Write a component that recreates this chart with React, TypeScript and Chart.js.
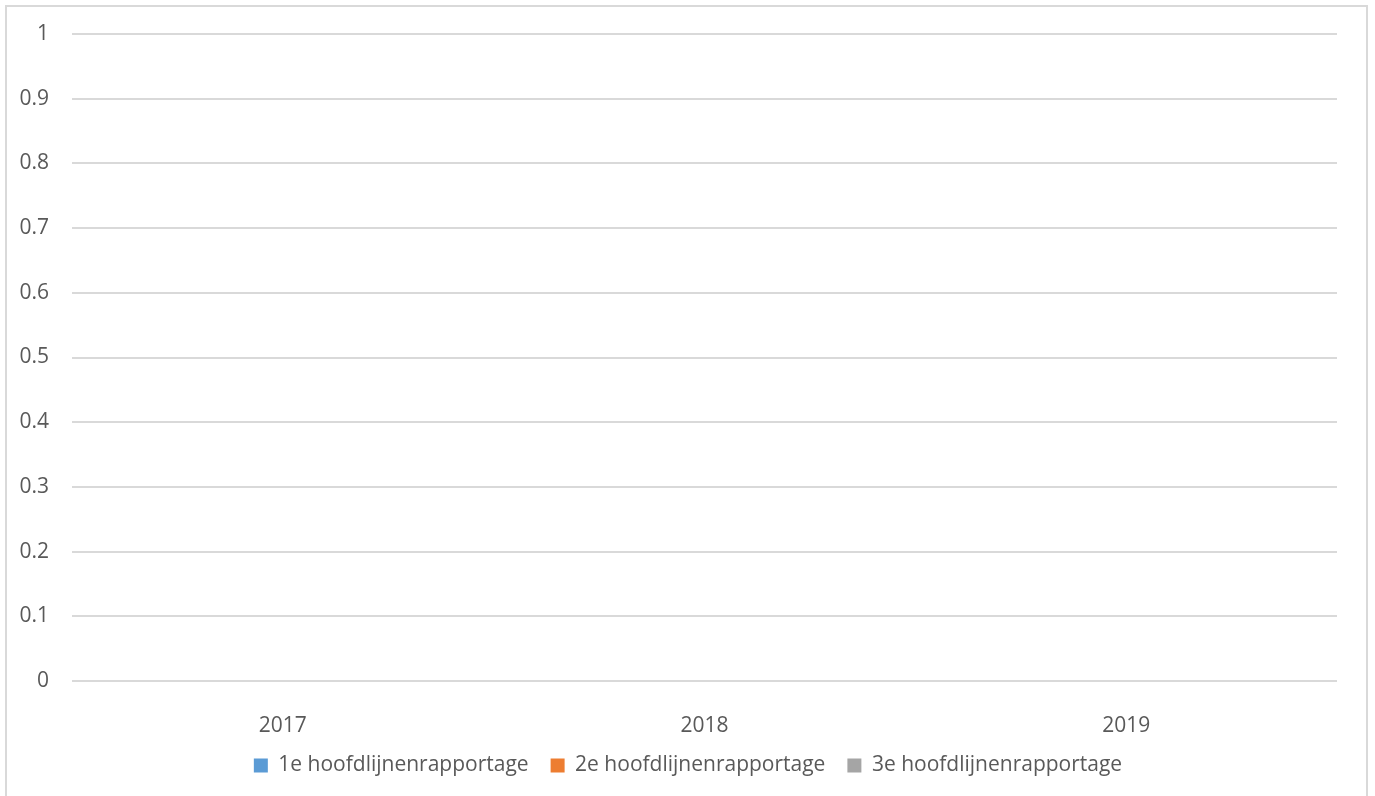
import React, { useEffect, useRef } from "react";
import { Chart, registerables } from "chart.js";

Chart.register(...registerables);

const categories = ["2017", "2018", "2019"];
const seriesNames = ["1e hoofdlijnenrapportage", "2e hoofdlijnenrapportage", "3e hoofdlijnenrapportage"];
const series1 = [0, 0, 0];
const series2 = [0, 0, 0];
const series3 = [0, 0, 0];
const seriesColors = ["#5b9bd5", "#ed7d31", "#a5a5a5"];
const yMin = 0;
const yMax = 1;
const yStep = 0.1;

const FONT = "'Open Sans', 'Noto Sans', sans-serif";
const TEXT = "#595959";
const GRID = "#d9d9d9";

const legendShift = {
  id: "legendShift",
  afterLayout(chart: any) {
    const lg = chart.legend;
    if (lg) {
      lg.left += 16;
      lg.right += 16;
    }
  },
};

export default function App() {
  const ref = useRef<HTMLCanvasElement | null>(null);

  useEffect(() => {
    const canvas = ref.current;
    if (!canvas) return;
    const values = [series1, series2, series3];
    const chart = new Chart(canvas, {
      type: "bar",
      data: {
        labels: categories,
        datasets: seriesNames.map((name, i) => ({
          label: name,
          data: values[i],
          backgroundColor: seriesColors[i],
          borderWidth: 0,
        })),
      },
      plugins: [legendShift],
      options: {
        animation: false,
        responsive: false,
        maintainAspectRatio: false,
        layout: { padding: { top: 27, right: 29, bottom: 10, left: 0 } },
        plugins: {
          tooltip: { enabled: false },
          legend: {
            position: "bottom",
            labels: {
              boxWidth: 14,
              boxHeight: 14,
              padding: 22,
              color: TEXT,
              font: { family: FONT, size: 21 },
            },
          },
        },
        scales: {
          x: {
            grid: { display: false },
            border: { display: false },
            ticks: { color: TEXT, font: { family: FONT, size: 21 }, padding: 24, maxRotation: 0 },
            afterFit: (scale: any) => {
              scale.height = 52;
            },
          },
          y: {
            min: yMin,
            max: yMax,
            border: { display: false },
            grid: { color: GRID, lineWidth: 2, drawTicks: false },
            ticks: {
              stepSize: yStep,
              color: TEXT,
              font: { family: FONT, size: 21 },
              padding: 23,
              callback: (value: any) => String(parseFloat(Number(value).toFixed(1))),
            },
            afterFit: (scale: any) => {
              scale.width = 65;
              scale.paddingTop = 0;
              scale.paddingBottom = 0;
            },
          },
        },
      },
    });
    return () => chart.destroy();
  }, []);

  return (
    <div
      style={{
        position: "fixed",
        left: 0,
        top: 0,
        width: 1375,
        height: 796,
        overflow: "hidden",
        background: "#fff",
      }}
    >
      <div
        style={{
          position: "absolute",
          left: 5,
          top: 5,
          width: 1363,
          height: 800,
          boxSizing: "border-box",
          border: "2px solid #d9d9d9",
        }}
      >
        <canvas ref={ref} width={1359} height={789} style={{ display: "block" }} />
      </div>
    </div>
  );
}
